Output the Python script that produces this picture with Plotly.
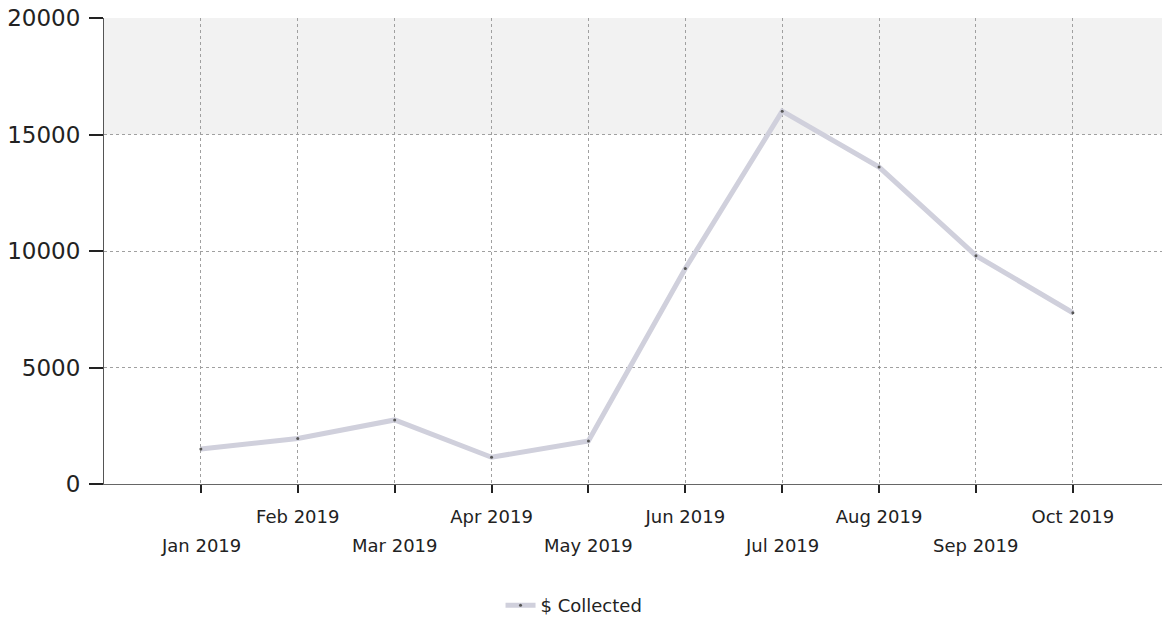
import plotly.graph_objects as go

months = ["Jan 2019", "Feb 2019", "Mar 2019", "Apr 2019", "May 2019",
          "Jun 2019", "Jul 2019", "Aug 2019", "Sep 2019", "Oct 2019"]
collected = [1500, 1950, 2750, 1150, 1850, 9250, 16000, 13600, 9800, 7350]
y_ticks = [0, 5000, 10000, 15000, 20000]

x_pos = list(range(len(months)))
# upper row of labels on odd positions, lower row added as annotations
tick_text = [m if i % 2 == 1 else "" for i, m in enumerate(months)]

fig = go.Figure()
fig.add_trace(go.Scatter(
    x=x_pos, y=collected, mode="lines+markers", name="$ Collected",
    line=dict(color="rgb(208,208,220)", width=5),
    marker=dict(size=3, color="#555555"),
))

# faint scan-like shading in the top band
fig.add_shape(type="rect", xref="paper", yref="y", x0=0, x1=1, y0=15000, y1=20000,
              fillcolor="rgba(0,0,0,0.05)", line=dict(width=0), layer="below")

for i, m in enumerate(months):
    if i % 2 == 0:
        fig.add_annotation(x=x_pos[i], y=-0.133, xref="x", yref="paper", text=m,
                           showarrow=False, yanchor="middle", xanchor="center",
                           font=dict(size=18, family="DejaVu Sans", color="#222222"))

fig.update_layout(
    width=1162, height=624,
    margin=dict(l=104, r=0, t=18, b=140),
    paper_bgcolor="white", plot_bgcolor="white",
    font=dict(family="DejaVu Sans", color="#222222"),
    showlegend=True,
    legend=dict(orientation="h", xref="container", yref="container",
                x=0.494, xanchor="center", y=-0.013, yanchor="bottom",
                font=dict(size=18, color="#222222")),
    xaxis=dict(
        range=[-1, 9.92], tickmode="array", tickvals=x_pos, ticktext=tick_text,
        showgrid=True, gridcolor="#a0a0a0", griddash="dot", gridwidth=1,
        showline=True, linecolor="#666666", linewidth=1,
        ticks="outside", ticklen=8, tickwidth=2, tickcolor="#222222",
        ticklabelstandoff=8,
        tickfont=dict(size=18, family="DejaVu Sans"), zeroline=False,
    ),
    yaxis=dict(
        range=[0, 20000], tickmode="array", tickvals=y_ticks,
        ticktext=[str(v) for v in y_ticks],
        showgrid=True, gridcolor="#a0a0a0", griddash="dot", gridwidth=1,
        showline=True, linecolor="#555555", linewidth=1,
        ticks="outside", ticklen=14, tickwidth=2, tickcolor="#222222",
        ticklabelstandoff=4,
        tickfont=dict(size=23, family="DejaVu Sans"), zeroline=False,
    ),
)

fig.write_html("out.html")
